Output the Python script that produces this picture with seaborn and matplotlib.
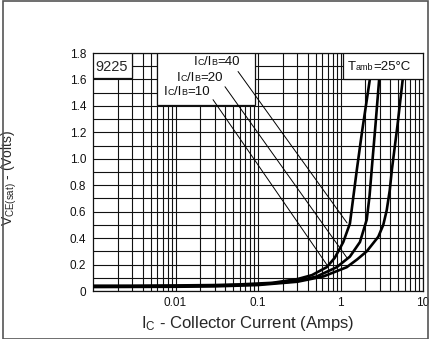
import numpy as np
import pandas as pd
import seaborn as sns
import matplotlib.pyplot as plt
from matplotlib.patches import Rectangle
from matplotlib.offsetbox import TextArea, HPacker, AnnotationBbox
from matplotlib.ticker import FixedLocator, MultipleLocator, NullFormatter

# VCE(sat) vs collector current
ic_40 = [0.001, 0.003, 0.01, 0.03, 0.06, 0.15, 0.3, 0.45, 0.68, 0.85, 0.94, 1.08, 1.3, 1.58, 1.82, 2.28, 2.51]
v_40 = [0.040, 0.040, 0.042, 0.045, 0.050, 0.062, 0.090, 0.12, 0.18, 0.25, 0.30, 0.37, 0.51, 0.92, 1.20, 1.61, 1.80]

ic_20 = [0.001, 0.003, 0.01, 0.03, 0.1, 0.3, 0.515, 0.9, 1.3, 1.72, 2.08, 2.25, 2.39, 2.65, 2.95, 3.14]
v_20 = [0.035, 0.036, 0.037, 0.040, 0.050, 0.075, 0.11, 0.18, 0.26, 0.37, 0.54, 0.72, 0.92, 1.25, 1.61, 1.80]

ic_10 = [0.001, 0.003, 0.01, 0.03, 0.1, 0.3, 0.62, 1.19, 1.6, 2.08, 2.87, 3.3, 3.63, 3.95, 4.2, 4.9, 5.7, 6.2]
v_10 = [0.030, 0.031, 0.032, 0.035, 0.045, 0.070, 0.11, 0.18, 0.24, 0.30, 0.41, 0.50, 0.61, 0.76, 0.92, 1.25, 1.61, 1.80]

# pointer lines from the Ic/Ib labels to the curves
ratio_labels = ['40', '20', '10']
pointer_start_ic = [0.0573, 0.0398, 0.0285]
pointer_start_v = [1.66, 1.545, 1.447]
pointer_end_ic = [1.2, 1.2, 0.686]
pointer_end_v = [0.515, 0.25, 0.197]

x_ticks = [0.01, 0.1, 1, 10]
x_ticklabels = ['0.01', '0.1', '1', '10']
y_ticks = [0, 0.2, 0.4, 0.6, 0.8, 1.0, 1.2, 1.4, 1.6, 1.8]
y_ticklabels = ['0', '0.2', '0.4', '0.6', '0.8', '1.0', '1.2', '1.4', '1.6', '1.8']

df = pd.concat([
    pd.DataFrame({'ic': ic_40, 'v': v_40, 'ratio': '40'}),
    pd.DataFrame({'ic': ic_20, 'v': v_20, 'ratio': '20'}),
    pd.DataFrame({'ic': ic_10, 'v': v_10, 'ratio': '10'}),
], ignore_index=True)

sns.set_style('white')
plt.rcParams['font.family'] = ['Liberation Sans', 'DejaVu Sans']
plt.rcParams['mathtext.fontset'] = 'custom'
plt.rcParams['mathtext.rm'] = 'Liberation Sans'

fig = plt.figure(figsize=(4.3, 3.39), dpi=100)
ax = fig.add_axes([93 / 430, 48 / 339, 330 / 430, 238 / 339])

ax.set_xscale('log')
ax.set_xlim(0.001, 10)
ax.set_ylim(0, 1.8)

# grid: every log minor line, every 0.1 V
ax.xaxis.set_major_locator(FixedLocator(x_ticks))
ax.set_xticklabels(x_ticklabels)
ax.xaxis.set_minor_formatter(NullFormatter())
ax.yaxis.set_major_locator(FixedLocator(y_ticks))
ax.set_yticklabels(y_ticklabels)
ax.yaxis.set_minor_locator(MultipleLocator(0.1))
ax.grid(which='both', color='#111111', linewidth=0.8, zorder=1)
ax.set_axisbelow(True)
ax.tick_params(which='both', length=0, labelsize=8.5, colors='#111111')
ax.tick_params(axis='x', pad=4.5)
ax.tick_params(axis='y', pad=5)
for s in ax.spines.values():
    s.set_color('#111111')
    s.set_linewidth(0.9)

sns.lineplot(data=df, x='ic', y='v', hue='ratio', units='ratio', estimator=None,
             palette=['black'] * 3, linewidth=1.9, sort=False, legend=False, ax=ax, zorder=3)

# white label boxes
box_kw = dict(transform=ax.transAxes, facecolor='white', edgecolor='#111111',
              linewidth=0.9, zorder=4)
ax.add_patch(Rectangle((0, 0.895), 0.118, 0.105, **box_kw))
ax.add_patch(Rectangle((0.194, 0.781), 0.297, 0.219, **box_kw))
ax.add_patch(Rectangle((0.758, 0.889), 0.242, 0.111, **box_kw))


def baseline_label(parts, x, y):
    """Text made of pieces with different sizes, all sitting on one baseline."""
    kids = [TextArea(s, textprops=dict(fontsize=fs, color='#111111')) for s, fs in parts]
    pack = HPacker(children=kids, align='baseline', pad=0, sep=0)
    ab = AnnotationBbox(pack, (x, y), xycoords='axes fraction', frameon=False,
                        box_alignment=(0.5, 0.5), pad=0, zorder=5)
    ax.add_artist(ab)


ax.text(0.008, 0.942, '9225', transform=ax.transAxes, ha='left', va='center',
        fontsize=10.5, zorder=5)
baseline_label([('T', 9.5), ('amb', 6.5), ('=25°C', 9.5)], 0.866, 0.942)
label_pos = [(0.375, 0.961), (0.324, 0.893), (0.283, 0.837)]
for lab, (tx, ty) in zip(ratio_labels, label_pos):
    baseline_label([('I', 9.5), ('C', 6.5), ('/I', 9.5), ('B', 6.5), ('=' + lab, 9.5)], tx, ty)

for i in range(len(ratio_labels)):
    ax.plot([pointer_start_ic[i], pointer_end_ic[i]], [pointer_start_v[i], pointer_end_v[i]],
            color='black', linewidth=0.7, zorder=6)

ax.set_xlabel(r'I$\mathregular{_C}$ - Collector Current (Amps)', fontsize=12)
ax.xaxis.set_label_coords(0.47, -0.095)
ax.set_ylabel(r'V$\mathregular{_{CE(sat)}}$ - (Volts)', fontsize=10)
ax.yaxis.set_label_coords(-0.224, 0.475)

fig.add_artist(Rectangle((2.5 / 430, 0.5 / 339), 425.5 / 430, 338 / 339,
                         transform=fig.transFigure, fill=False,
                         edgecolor='#555555', linewidth=1.2))

fig.savefig('out.png', dpi=100)
